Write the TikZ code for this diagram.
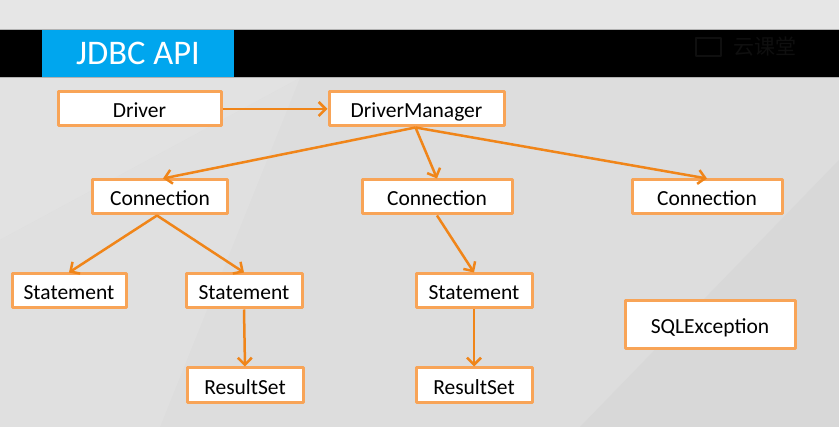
\documentclass[tikz,border=0pt]{standalone}
\usepackage{fontspec}
\setmainfont{Carlito}
\newfontfamily\cjk{Noto Sans CJK SC}
\usetikzlibrary{arrows.meta,positioning,calc}
\definecolor{Bg}{HTML}{DDDDDD}
\definecolor{BgLight}{HTML}{E6E6E6}
\definecolor{BgDark}{HTML}{D8D8D8}
\definecolor{Banner}{HTML}{00A6EE}
\definecolor{Frame}{HTML}{F8A457}
\definecolor{Wire}{HTML}{F08519}
\definecolor{Logo}{gray}{0.06}
\tikzset{
  box/.style={draw=Frame,line width=3pt,fill=white,inner sep=0pt,minimum height=34pt,text height=22pt,text depth=4pt,font=\fontsize{21.5}{25}\selectfont},
  arr/.style={-{Straight Barb[length=7pt,width=14pt,line width=2.5pt]},line width=2.5pt,draw=Wire},
}
\begin{document}
\begin{tikzpicture}[x=1pt,y=-1pt,line join=round]
\useasboundingbox (0,0) rectangle (839,427);
\fill[Bg] (0,0) rectangle (839,427);
\fill[BgLight] (0,0)--(839,0)--(839,30)--(0,30)--cycle;
\fill[BgLight!60!Bg] (0,78)--(300,78)--(0,240)--cycle;
\fill[BgDark] (839,160)--(839,427)--(580,427)--cycle;
\fill[BgLight!35!Bg] (0,240)--(300,78)--(160,427)--(0,427)--cycle;
\fill[black] (0,30) rectangle (839,77);
\draw[gray!60,line width=1pt] (0,29.5)--(839,29.5) (0,77.5)--(839,77.5);
\fill[Banner] (42,30) rectangle (234,77);
\node[text=white,inner sep=0pt,text height=27pt,text depth=4pt,font=\fontsize{34.5}{38}\selectfont] (title) at (138,53.5) {JDBC API};
\draw[Logo,line width=2pt] (696,38) rectangle (721,56);
\node[text=Logo,font=\cjk\fontsize{21}{23}\selectfont,anchor=west] (logo) at (730,47) {云课堂};

\node[box,minimum width=163pt] (drv) at (139.5,109) {Driver};
\node[box,minimum width=175pt] (dm) at (416.5,109) {DriverManager};
\node[box,minimum width=135pt] (conA) at (160,197) {Connection};
\node[box,minimum width=150pt] (conB) at (437,197) {Connection};
\node[box,minimum width=150pt] (conC) at (707,197) {Connection};
\node[box,minimum width=114pt] (stA) at (69,291) {Statement};
\node[box,minimum width=116pt] (stB) at (244,291) {Statement};
\node[box,minimum width=116pt] (stC) at (474,291) {Statement};
\node[box,minimum width=116pt,minimum height=35pt] (rsA) at (245,385.5) {ResultSet};
\node[box,minimum width=116pt,minimum height=35pt] (rsB) at (474,385.5) {ResultSet};
\node[box,minimum width=170pt,minimum height=48pt] (sqlex) at (710,325) {SQLException};

\draw[arr] (drv.east) -- (dm.west);
\draw[arr] ($(dm.south)+(-1,0)$) -- ($(conA.north)+(3,0)$);
\draw[arr] ($(dm.south)+(-1,0)$) -- (conB.north);
\draw[arr] ($(dm.south)+(-1,0)$) -- (conC.north);
\draw[arr] ($(conA.south)+(-3,0)$) -- (stA.north);
\draw[arr] ($(conA.south)+(-3,0)$) -- (stB.north);
\draw[arr] (conB.south) -- (stC.north);
\draw[arr] (stB.south) -- (rsA.north);
\draw[arr] (stC.south) -- (rsB.north);
\end{tikzpicture}
\end{document}
